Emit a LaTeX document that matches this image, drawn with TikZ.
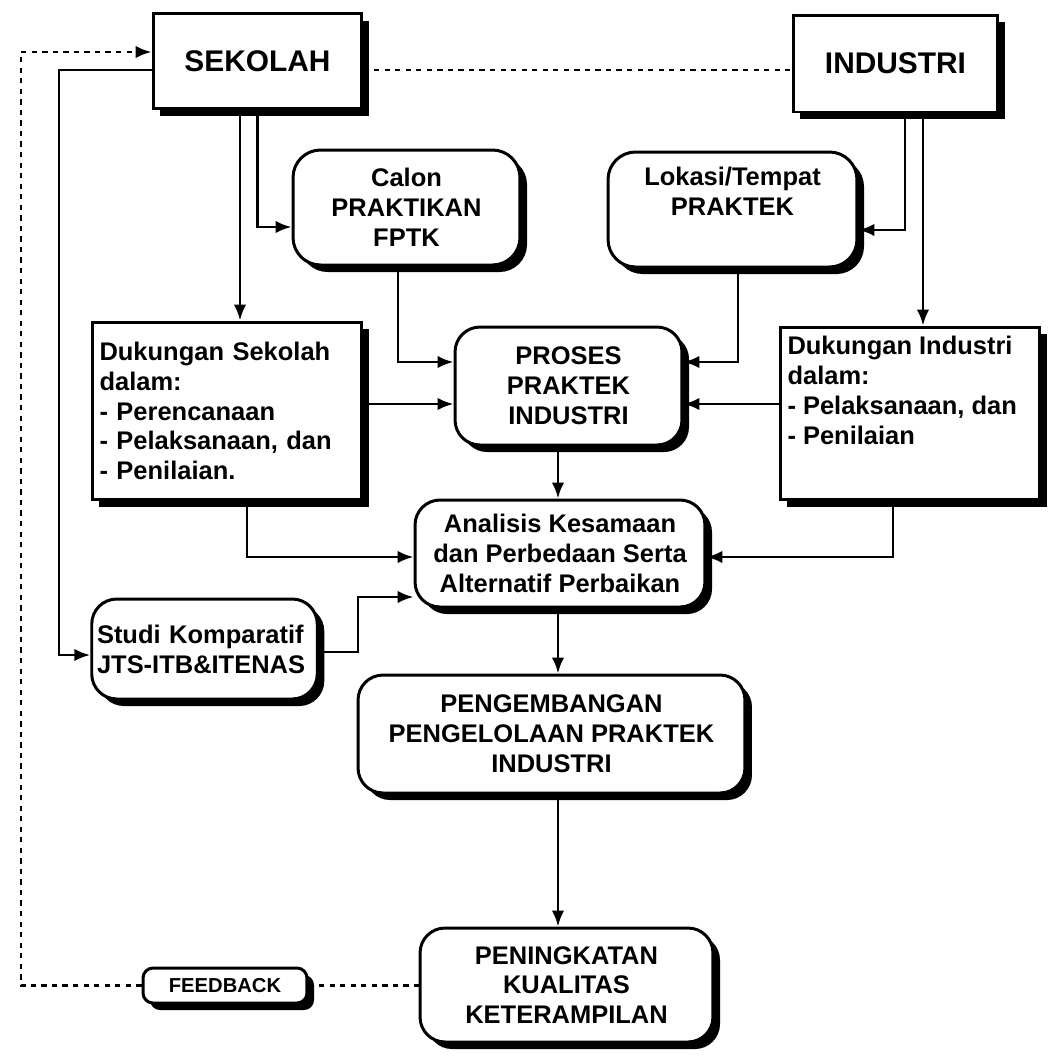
\documentclass[tikz,border=0pt]{standalone}
\usepackage{fontspec}
\setmainfont{Liberation Sans}
\usepackage{tikz}
\usetikzlibrary{arrows.meta,shadows}

\begin{document}
\begin{tikzpicture}[-{Latex[length=9pt,width=7pt]},line width=1.5pt,x=0.02cm,y=-0.02cm]
      \tikzstyle{box}=[draw,fill=white,line width=1.7pt,align=center,inner sep=3pt,font=\fontsize{14.5}{17}\selectfont\bfseries,drop shadow={shadow xshift=4pt,shadow yshift=-4pt,fill=black,opacity=1}]
      \tikzstyle{rbox}=[box,rounded corners=0.5cm]

      \useasboundingbox (0,0) rectangle (1052,1056);

      \node[box,minimum width=4.18cm,minimum height=1.9cm,font=\fontsize{17}{20}\selectfont\bfseries] (sekolah) at (257.5,61) {SEKOLAH};
      \node[box,minimum width=4.1cm,minimum height=1.94cm,font=\fontsize{17}{20}\selectfont\bfseries] (industri) at (895.5,63.5) {INDUSTRI};

      \node[rbox,minimum width=4.54cm,minimum height=2.3cm,rounded corners=0.55cm] (calon) at (406.5,207.5) {Calon\\PRAKTIKAN\\FPTK};
      \node[rbox,minimum width=4.98cm,minimum height=2.3cm,rounded corners=0.55cm] (lokasi) at (732.5,209.5) {\parbox[c][1.7cm][t]{4.6cm}{\centering Lokasi/Tempat\\PRAKTEK}};

      \node[box,minimum width=5.4cm,minimum height=3.56cm,text width=5.1cm,align=left] (dsek) at (227,411) {Dukungan Sekolah\\dalam:\\- Perencanaan\\- Pelaksanaan, dan\\- Penilaian.};
      \node[rbox,minimum width=4.54cm,minimum height=2.36cm] (proses) at (568.5,386) {PROSES\\PRAKTEK\\INDUSTRI};
      \node[box,minimum width=5.2cm,minimum height=3.46cm] (dind) at (910,413.5) {\parbox[c][3.1cm][t]{4.9cm}{Dukungan Industri\\dalam:\\- Pelaksanaan, dan\\- Penilaian}};

      \node[rbox,minimum width=5.8cm,minimum height=2.14cm] (analisis) at (560,553.5) {Analisis Kesamaan\\dan Perbedaan Serta\\Alternatif Perbaikan};
      \node[rbox,minimum width=4.5cm,minimum height=2cm,text width=4.3cm,align=left] (studi) at (204.5,649) {Studi Komparatif\\JTS-ITB\&ITENAS};
      \node[rbox,minimum width=7.74cm,minimum height=2.36cm] (pengemb) at (551.5,734) {PENGEMBANGAN\\PENGELOLAAN PRAKTEK\\INDUSTRI};
      \node[rbox,minimum width=5.86cm,minimum height=2.28cm] (peningk) at (566.5,985) {PENINGKATAN\\KUALITAS\\KETERAMPILAN};
      \node[rbox,minimum width=3.28cm,minimum height=0.7cm,rounded corners=0.2cm,font=\fontsize{11.5}{13}\selectfont\bfseries] (feedback) at (225,985.5) {FEEDBACK};

      \coordinate (fbc) at (21,52);
      \coordinate (sl) at (59,70);
      \coordinate (sb) at (358,597);
      \coordinate (mx) at (558,0);

      \draw[-,dashed] (sekolah.east |- 0,70) -- (industri.west |- 0,70);
      \draw[dashed] (feedback.west) -| (fbc) -- (sekolah.west |- fbc);
      \draw[-,dashed] (feedback.east) -- (feedback.east -| peningk.west);

      \draw (sekolah.west |- sl) -- (sl) |- (studi.west |- 0,655);
      \draw (sekolah.south -| 240,0) -- (dsek.north -| 240,0);
      \draw (sekolah.south) |- (calon.west |- 0,227);

      \draw (industri.south -| 905,0) |- (lokasi.east |- 0,230);
      \draw (industri.south -| 923,0) -- (dind.north -| 923,0);

      \draw (calon.south -| 398,0) |- (proses.west |- 0,362);
      \draw (lokasi.south -| 738,0) |- (proses.east |- 0,362);
      \draw (dsek.east |- 0,404) -- (proses.west |- 0,404);
      \draw (dind.west |- 0,404) -- (proses.east |- 0,404);

      \draw (mx |- proses.south) -- (mx |- analisis.north);
      \draw (dsek.south -| 247,0) |- (analisis.west |- 0,557);
      \draw (dind.south -| 893,0) |- (analisis.east |- 0,557);
      \draw (studi.east |- 0,652) -| (sb) -- (analisis.west |- sb);

      \draw (mx |- analisis.south) -- (mx |- pengemb.north);
      \draw (mx |- pengemb.south) -- (mx |- peningk.north);

    \end{tikzpicture}
\end{document}
